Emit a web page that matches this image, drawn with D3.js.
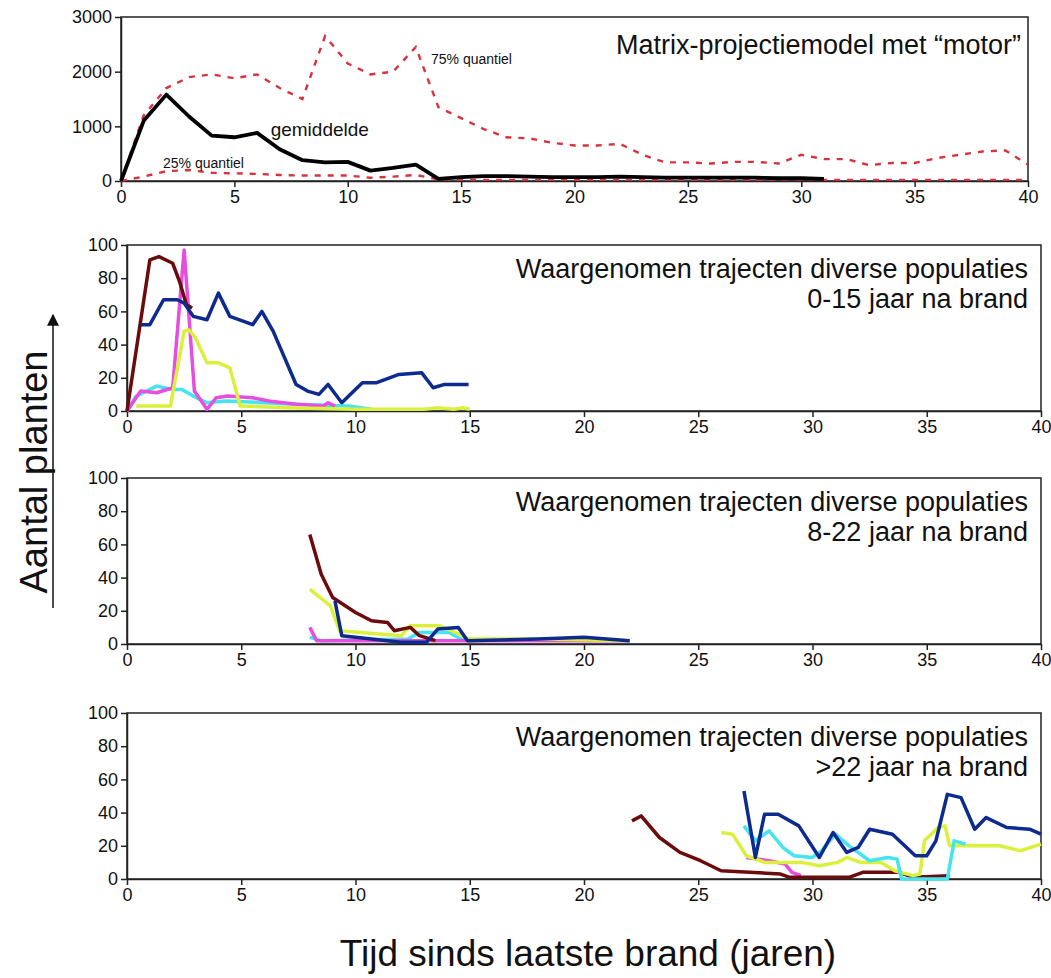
<!DOCTYPE html>
<html>
<head>
<meta charset="utf-8">
<script src="https://d3js.org/d3.v7.min.js"></script>
<style>
body { margin: 0; background: #fff; }
svg text { font-family: "Liberation Sans", Arial, sans-serif; fill: #111; }
.axis path, .axis line { stroke: #222; stroke-width: 1.5; }
.axis text { font-size: 18px; }
</style>
</head>
<body>
<svg width="1051" height="978"></svg>
<script>
// Top panel: matrix projection model (years 0..40)
var modelYears = d3.range(0, 41);
var meanVals = [0, 1100, 1580, 1180, 830, 800, 880, 580, 380, 340, 350, 190, 240, 300, 40, 70, 90, 90, 80, 70,
                70, 70, 80, 70, 60, 60, 60, 60, 60, 50, 50, 40];
var q75Vals = [0, 1200, 1700, 1900, 1950, 1880, 1950, 1700, 1500, 2650, 2150, 1950, 2000, 2450, 1350, 1150, 950, 800, 780, 700,
               650, 650, 680, 480, 340, 340, 320, 350, 350, 320, 480, 400, 400, 290, 330, 330, 420, 480, 540, 560, 300];
var q25Vals = [0, 80, 180, 200, 150, 140, 130, 110, 100, 100, 100, 60, 80, 110, 30, 20, 20, 20, 20, 20,
               20, 20, 20, 20, 20, 20, 20, 20, 20, 20, 20, 20, 20, 20, 20, 20, 20, 20, 20, 20, 20];

// Panel 2: observed trajectories 0-15 years after fire  [year, plants]
var p1Red = [[0,0],[1,91],[1.4,93],[2.0,89],[2.3,78],[2.6,64],[2.85,62]];
var p1Blue = [[0.6,52],[1.0,52],[1.6,67],[2.2,67],[2.5,65],[2.9,57],[3.5,55],[4.0,71],[4.5,57],[5.5,52],[5.9,60],
              [6.4,48],[7.4,16],[7.9,12],[8.4,10],[8.8,16],[9.4,5],[10.3,17],[10.9,17],[11.9,22],[12.9,23],[13.4,14],[13.9,16],[14.95,16]];
var p1Magenta = [[0,0],[0.6,12],[1.3,11],[2.0,14],[2.5,97],[2.95,12],[3.5,1],[3.9,8],[4.4,9],[5.5,8],[6.2,6],[7.4,4],[8.6,3],[8.8,5],[9.1,3]];
var p1Yellow = [[0.4,3],[1.9,3],[2.5,48],[2.7,49],[3.0,44],[3.5,29],[4.0,29],[4.5,26],[4.95,3],[7,2],[10,1],[13,1],[13.6,2],[14.3,1],[14.7,2],[15,1]];
var p1Cyan = [[0,0],[0.4,9],[1.3,15],[2.0,13],[2.4,13],[2.9,9],[3.5,5],[4.3,6],[6,5],[7.4,4],[9.7,3],[10.7,1]];

// Panel 3: observed trajectories 8-22 years after fire
var p2Red = [[8,66],[8.5,42],[9,28],[10,19],[10.7,14],[11.4,13],[11.7,8],[12.4,10],[12.8,5],[13.5,2]];
var p2Yellow = [[8,33],[8.9,23],[9.3,8],[12,5],[12.4,11],[13.7,11],[15,3],[18,3],[22,2]];
var p2Blue = [[9.1,26],[9.4,5],[12,1],[13.1,1],[13.6,9],[14.5,10],[14.9,2],[18,3],[20,4],[22,2]];
var p2Magenta = [[8,10],[8.3,2],[12,2],[15,2],[19,2],[22,2]];
var p2Cyan = [[8,4],[8.5,2],[12.3,3],[12.8,7],[14.1,7],[14.6,3],[15,2]];

// Panel 4: observed trajectories >22 years after fire
var p3Red = [[22.1,35],[22.5,38],[23.3,25],[24.2,16],[25.1,11],[26,5],[28.6,3],[29,1],[31.6,1],[32.2,4],[33.8,4],[34.4,1],[36,2]];
var p3Blue = [[27.0,53],[27.5,13],[27.9,39],[28.5,39],[29.4,32],[30.3,13],[30.9,28],[31.5,16],[32,19],[32.5,30],[33.5,27],
              [34.5,14],[35,14],[35.4,23],[35.9,51],[36.5,49],[37.1,30],[37.6,37],[38.5,31],[39.5,30],[40,27]];
var p3Yellow = [[26.0,28],[26.5,27],[27.1,14],[27.9,10],[29.5,10],[30.3,8],[31.1,10],[31.5,13],[32.1,10],[33,10],[33.6,5],
                [34.4,2],[34.7,3],[34.9,23],[35.5,31],[35.8,32],[36,20],[36.9,20],[38.2,20],[39.1,17],[40,21]];
var p3Cyan = [[27.0,32],[27.5,23],[28.1,29],[28.7,19],[29.2,14],[30.0,13],[30.4,17],[31.0,27],[31.6,20],[32.5,11],[33.3,13],
              [33.7,12],[33.9,0],[35.9,0],[36.2,23],[36.7,21]];
var p3Magenta = [[27.1,13],[28.1,11],[28.8,9],[29.1,4],[29.5,2]];

var xTicks = [0, 5, 10, 15, 20, 25, 30, 35, 40];
var lowYTicks = [0, 20, 40, 60, 80, 100];
var topYTicks = [0, 1000, 2000, 3000];

var colors = {red: "#6b0b0b", blue: "#0d2a8e", magenta: "#e64ee0", yellow: "#dbf03c", cyan: "#45e4ee"};

var svg = d3.select("svg");

// --- top panel ---
var xTop = d3.scaleLinear().domain([0, 40]).range([121, 1028]);
var yTop = d3.scaleLinear().domain([0, 3000]).range([181, 17]);

svg.append("rect").attr("x", 121).attr("y", 17).attr("width", 1028 - 121).attr("height", 181 - 17)
    .attr("fill", "none").attr("stroke", "#222").attr("stroke-width", 1.5);

svg.append("g").attr("class", "axis").attr("transform", "translate(0,181)")
    .call(d3.axisBottom(xTop).tickValues(xTicks).tickSize(6).tickSizeOuter(0));
svg.append("g").attr("class", "axis").attr("transform", "translate(121,0)")
    .call(d3.axisLeft(yTop).tickValues(topYTicks).tickFormat(d3.format("d")).tickSize(6).tickSizeOuter(0));

var lineTop = d3.line().x(function(d, i) { return xTop(modelYears[i]); }).y(function(d) { return yTop(d); });

svg.append("path").datum(q75Vals).attr("d", lineTop)
    .attr("fill", "none").attr("stroke", "#d8323f").attr("stroke-width", 2.4).attr("stroke-dasharray", "6,7");
svg.append("path").datum(q25Vals).attr("d", lineTop)
    .attr("fill", "none").attr("stroke", "#d8323f").attr("stroke-width", 2.4).attr("stroke-dasharray", "6,7");
svg.append("path").datum(meanVals).attr("d", lineTop)
    .attr("fill", "none").attr("stroke", "#000").attr("stroke-width", 3.8).attr("stroke-linejoin", "round");

svg.append("text").attr("x", 1021).attr("y", 54).attr("text-anchor", "end")
    .style("font-size", "27px").text("Matrix-projectiemodel met \u201cmotor\u201d");
svg.append("text").attr("x", 431).attr("y", 64).style("font-size", "14px").text("75% quantiel");
svg.append("text").attr("x", xTop(6.6)).attr("y", 136).style("font-size", "19px").text("gemiddelde");
svg.append("text").attr("x", 163).attr("y", 168).style("font-size", "14px").text("25% quantiel");

// --- lower panels ---
var xLow = d3.scaleLinear().domain([0, 40]).range([127, 1041]);

var panels = [
  {top: 245, bottom: 411, title: "0-15 jaar na brand",
   series: [[p1Cyan, colors.cyan], [p1Magenta, colors.magenta], [p1Yellow, colors.yellow], [p1Red, colors.red], [p1Blue, colors.blue]]},
  {top: 478, bottom: 644, title: "8-22 jaar na brand",
   series: [[p2Cyan, colors.cyan], [p2Magenta, colors.magenta], [p2Yellow, colors.yellow], [p2Red, colors.red], [p2Blue, colors.blue]]},
  {top: 713, bottom: 879, title: ">22 jaar na brand",
   series: [[p3Magenta, colors.magenta], [p3Red, colors.red], [p3Yellow, colors.yellow], [p3Cyan, colors.cyan], [p3Blue, colors.blue]]}
];

panels.forEach(function(p) {
  var y = d3.scaleLinear().domain([0, 100]).range([p.bottom, p.top]);
  svg.append("rect").attr("x", 127).attr("y", p.top).attr("width", 1041 - 127).attr("height", p.bottom - p.top)
      .attr("fill", "none").attr("stroke", "#222").attr("stroke-width", 1.5);
  svg.append("g").attr("class", "axis").attr("transform", "translate(0," + p.bottom + ")")
      .call(d3.axisBottom(xLow).tickValues(xTicks).tickSize(6).tickSizeOuter(0));
  svg.append("g").attr("class", "axis").attr("transform", "translate(127,0)")
      .call(d3.axisLeft(y).tickValues(lowYTicks).tickSize(6).tickSizeOuter(0));

  var line = d3.line().x(function(d) { return xLow(d[0]); }).y(function(d) { return y(d[1]); });
  p.series.forEach(function(s) {
    svg.append("path").datum(s[0]).attr("d", line)
        .attr("fill", "none").attr("stroke", s[1]).attr("stroke-width", 3.5).attr("stroke-linejoin", "round");
  });

  svg.append("text").attr("x", 1028).attr("y", p.top + 33).attr("text-anchor", "end")
      .style("font-size", "27px").text("Waargenomen trajecten diverse populaties");
  svg.append("text").attr("x", 1028).attr("y", p.top + 63).attr("text-anchor", "end")
      .style("font-size", "27px").text(p.title);
});

// axis titles
svg.append("text").attr("x", 588).attr("y", 966).attr("text-anchor", "middle")
    .style("font-size", "37px").text("Tijd sinds laatste brand (jaren)");
svg.append("text").attr("transform", "translate(47,472) rotate(-90)").attr("text-anchor", "middle")
    .style("font-size", "38px").text("Aantal planten");

svg.append("defs").append("marker").attr("id", "arrow").attr("viewBox", "0 0 10 10")
    .attr("refX", 9).attr("refY", 5).attr("markerWidth", 8).attr("markerHeight", 8).attr("orient", "auto")
    .append("path").attr("d", "M0,0 L10,5 L0,10 z").attr("fill", "#111");
svg.append("line").attr("x1", 53).attr("y1", 608).attr("x2", 53).attr("y2", 315)
    .attr("stroke", "#111").attr("stroke-width", 1.5).attr("marker-end", "url(#arrow)");
</script>
</body>
</html>
